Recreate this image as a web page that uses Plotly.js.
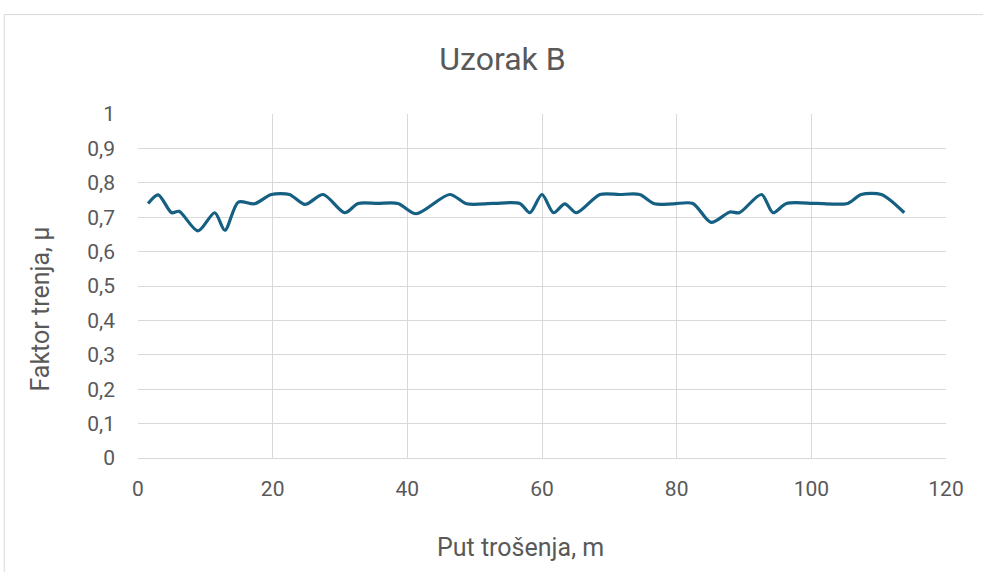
<!DOCTYPE html>
<html>
<head>
<meta charset="utf-8">
<script src="https://cdn.plot.ly/plotly-3.0.1.min.js"></script>
<style>
html,body{margin:0;padding:0;background:#fff;overflow:hidden;}
#chart{width:983px;height:572px;}
</style>
</head>
<body>
<div id="chart"></div>
<script>
const chartTitle = "Uzorak B";
const xTitle = "Put trošenja, m";
const yTitle = "Faktor trenja, μ";
const distance = [1.5, 3, 5, 6.1, 8.9, 11.4, 12.9, 14.9, 17.3, 19.8, 22.5, 24.8, 27.5, 30.7, 32.7, 35.6, 38.6, 41.3, 46.3, 48.8, 52.7, 56.7, 58.2, 60.0, 61.7, 63.4, 65.1, 68.6, 71.5, 74.5, 76.7, 79.5, 82.4, 85.1, 87.9, 89.3, 92.6, 94.3, 96.3, 100.8, 105.4, 107.4, 110.4, 113.8];
const friction = [0.74, 0.765, 0.713, 0.717, 0.66, 0.713, 0.662, 0.744, 0.739, 0.766, 0.766, 0.737, 0.766, 0.713, 0.74, 0.74, 0.74, 0.71, 0.766, 0.739, 0.74, 0.74, 0.713, 0.766, 0.713, 0.739, 0.713, 0.766, 0.766, 0.766, 0.739, 0.739, 0.74, 0.685, 0.715, 0.713, 0.766, 0.713, 0.74, 0.74, 0.74, 0.766, 0.766, 0.713];

const txt = '#595959';
const grid = '#d9d9d9';
const fontFam = 'Roboto, "Open Sans", sans-serif';

const trace = {
  x: distance, y: friction, type: 'scatter', mode: 'lines',
  line: {color: '#156082', width: 3.2, shape: 'spline', smoothing: 0.8},
  hoverinfo: 'skip'
};

// plot area in pixels: x 138.3..946.5, y 114..458.3
const L = 138.3, R = 946.5, T = 114, B = 458.3;
const px2paperX = p => (p - L) / (R - L);
const px2paperY = p => (B - p) / (B - T);

const layout = {
  width: 983, height: 572,
  margin: {l: L, r: 983 - R, t: T, b: 572 - B},
  paper_bgcolor: '#ffffff', plot_bgcolor: '#ffffff',
  separators: ',.',
  showlegend: false,
  font: {family: fontFam, color: txt, size: 21},
  title: {text: chartTitle, font: {size: 32, color: txt, family: fontFam}, x: 502.5 / 983, xanchor: 'center', y: 1 - 59 / 572, yanchor: 'middle'},
  xaxis: {
    range: [0, 120], dtick: 20, tick0: 0,
    showgrid: true, gridcolor: grid, gridwidth: 1,
    zeroline: false, showline: true, linecolor: grid, linewidth: 1,
    ticks: '', tickfont: {size: 21, color: txt}, ticklabelstandoff: 12
  },
  yaxis: {
    range: [0, 1], dtick: 0.1, tick0: 0,
    showgrid: true, gridcolor: grid, gridwidth: 1,
    zeroline: false, showline: false,
    ticks: '', tickfont: {size: 21, color: txt}, ticklabelstandoff: 22
  },
  annotations: [
    {text: xTitle, xref: 'paper', yref: 'paper', x: px2paperX(521), y: px2paperY(548),
     xanchor: 'center', yanchor: 'middle', showarrow: false, font: {size: 25, color: txt}},
    {text: yTitle, xref: 'paper', yref: 'paper', x: px2paperX(41), y: px2paperY(309),
     xanchor: 'center', yanchor: 'middle', textangle: -90, showarrow: false, font: {size: 25, color: txt}}
  ],
  shapes: [{
    type: 'rect', xref: 'paper', yref: 'paper',
    x0: px2paperX(4.5), x1: px2paperX(1200), y0: px2paperY(800), y1: px2paperY(14.5),
    line: {color: grid, width: 1}, fillcolor: 'rgba(0,0,0,0)', layer: 'below'
  }]
};

Plotly.newPlot('chart', [trace], layout, {staticPlot: true, displayModeBar: false});
</script>
</body>
</html>
